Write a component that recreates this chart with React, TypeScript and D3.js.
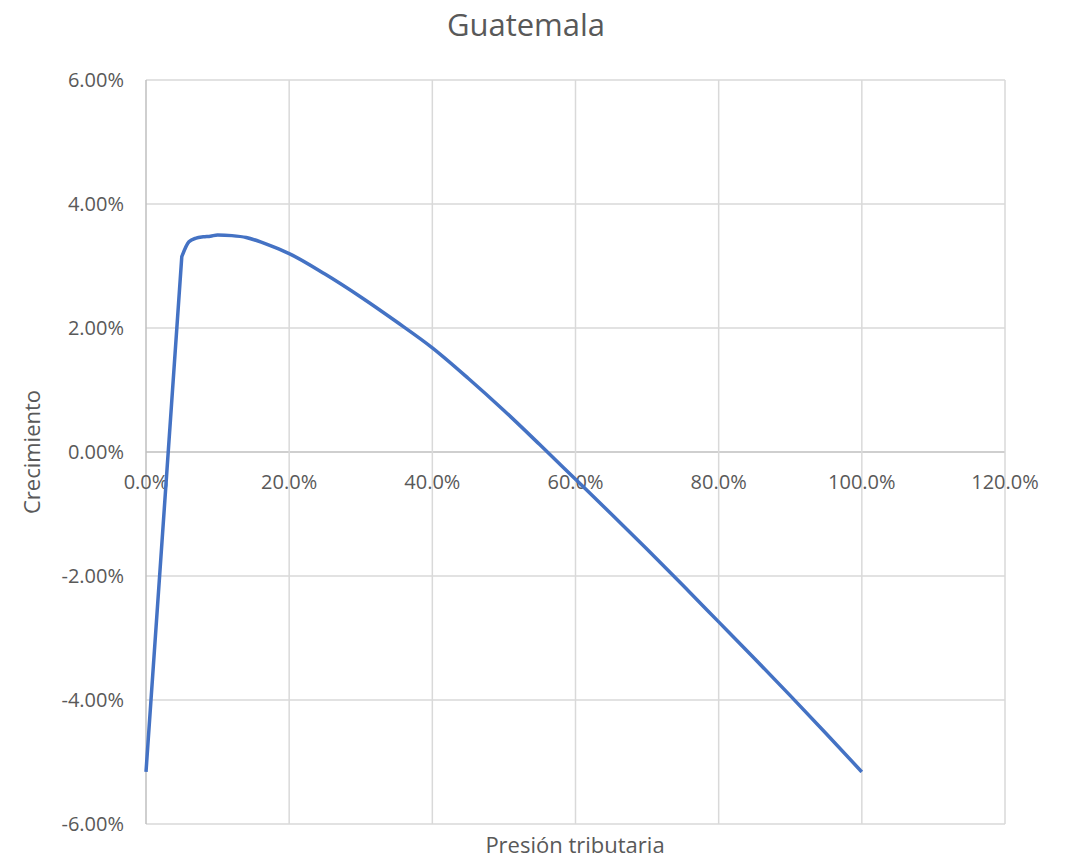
import { useEffect, useRef } from 'react';
import * as d3 from 'd3';

// Presión tributaria (fraction) vs Crecimiento (fraction)
const presion = [0, 0.05, 0.06, 0.07, 0.08, 0.09, 0.10, 0.12, 0.14, 0.16, 0.18, 0.20, 0.25, 0.30, 0.35, 0.40, 0.45, 0.50, 0.55, 0.60, 0.65, 0.70, 0.75, 0.80, 0.85, 0.90, 0.95, 1.00];
const crecimiento = [-0.0516, 0.0315, 0.0339, 0.0345, 0.0347, 0.0348, 0.0350, 0.0349, 0.0346, 0.0339, 0.0330, 0.0320, 0.0287, 0.0250, 0.0210, 0.0168, 0.0119, 0.0067, 0.0012, -0.0044, -0.0100, -0.0157, -0.0215, -0.0274, -0.0333, -0.0393, -0.0454, -0.0516];
const xTicks = [0, 0.2, 0.4, 0.6, 0.8, 1.0, 1.2];
const yTicks = [-0.06, -0.04, -0.02, 0, 0.02, 0.04, 0.06];

const FONT = "'Open Sans', 'Noto Sans', sans-serif";
const TEXT = '#595959';

const fmt = (f: string) => (d: number) => d3.format(f)(d).replace('\u2212', '-');

export default function App() {
  const svgRef = useRef<SVGSVGElement>(null);
  const width = 1068;
  const height = 858;

  useEffect(() => {
    if (!svgRef.current) return;
    const svg = d3.select(svgRef.current);
    svg.selectAll('*').remove();

    const left = 146, right = 1005, top = 80, bottom = 824;

    const x = d3.scaleLinear().domain([0, 1.2]).range([left, right]);
    const y = d3.scaleLinear().domain([-0.06, 0.06]).range([bottom, top]);

    // Gridlines
    svg.append('g')
      .selectAll('line')
      .data(yTicks)
      .enter()
      .append('line')
      .attr('x1', left)
      .attr('x2', right)
      .attr('y1', d => y(d))
      .attr('y2', d => y(d))
      .attr('stroke', d => (d === 0 ? '#bfbfbf' : '#d9d9d9'))
      .attr('stroke-width', 1.5);

    svg.append('g')
      .selectAll('line')
      .data(xTicks)
      .enter()
      .append('line')
      .attr('x1', d => x(d))
      .attr('x2', d => x(d))
      .attr('y1', top)
      .attr('y2', bottom)
      .attr('stroke', d => (d === 0 ? '#bfbfbf' : '#d9d9d9'))
      .attr('stroke-width', 1.5);

    // Y tick labels
    svg.append('g')
      .selectAll('text')
      .data(yTicks)
      .enter()
      .append('text')
      .attr('x', left - 22)
      .attr('y', d => y(d))
      .attr('dy', '0.35em')
      .attr('text-anchor', 'end')
      .attr('font-size', 20)
      .attr('font-family', FONT)
      .attr('fill', TEXT)
      .text(fmt('.2%'));

    // X tick labels (at the zero line)
    svg.append('g')
      .selectAll('text')
      .data(xTicks)
      .enter()
      .append('text')
      .attr('x', d => x(d))
      .attr('y', y(0) + 37)
      .attr('text-anchor', 'middle')
      .attr('font-size', 20)
      .attr('font-family', FONT)
      .attr('fill', TEXT)
      .text(fmt('.1%'));

    // Line: straight first segment, smooth remainder
    const pts = presion.map((p, i) => [p, crecimiento[i]] as [number, number]);
    const straight = d3.line<[number, number]>()
      .x(d => x(d[0]))
      .y(d => y(d[1]));
    const smooth = d3.line<[number, number]>()
      .x(d => x(d[0]))
      .y(d => y(d[1]))
      .curve(d3.curveMonotoneX);

    const d1 = straight(pts.slice(0, 2)) || '';
    const d2 = (smooth(pts.slice(1)) || '').replace(/^M[^A-Za-z]*/, '');

    svg.append('path')
      .attr('d', d1 + d2)
      .attr('fill', 'none')
      .attr('stroke', '#4472C4')
      .attr('stroke-width', 3.5)
      .attr('stroke-linejoin', 'round');

    // Title
    svg.append('text')
      .attr('x', 526)
      .attr('y', 36)
      .attr('text-anchor', 'middle')
      .attr('font-size', 31)
      .attr('font-family', FONT)
      .attr('fill', TEXT)
      .text('Guatemala');

    // Axis titles
    svg.append('text')
      .attr('x', 575)
      .attr('y', 853)
      .attr('text-anchor', 'middle')
      .attr('font-size', 22)
      .attr('font-family', FONT)
      .attr('fill', TEXT)
      .text('Presión tributaria');

    svg.append('text')
      .attr('transform', `translate(40, ${y(0)}) rotate(-90)`)
      .attr('text-anchor', 'middle')
      .attr('font-size', 22)
      .attr('font-family', FONT)
      .attr('fill', TEXT)
      .text('Crecimiento');
  }, []);

  return (
    <svg
      ref={svgRef}
      width={width}
      height={height}
      style={{ position: 'absolute', left: 0, top: 0, background: '#fff' }}
    />
  );
}
